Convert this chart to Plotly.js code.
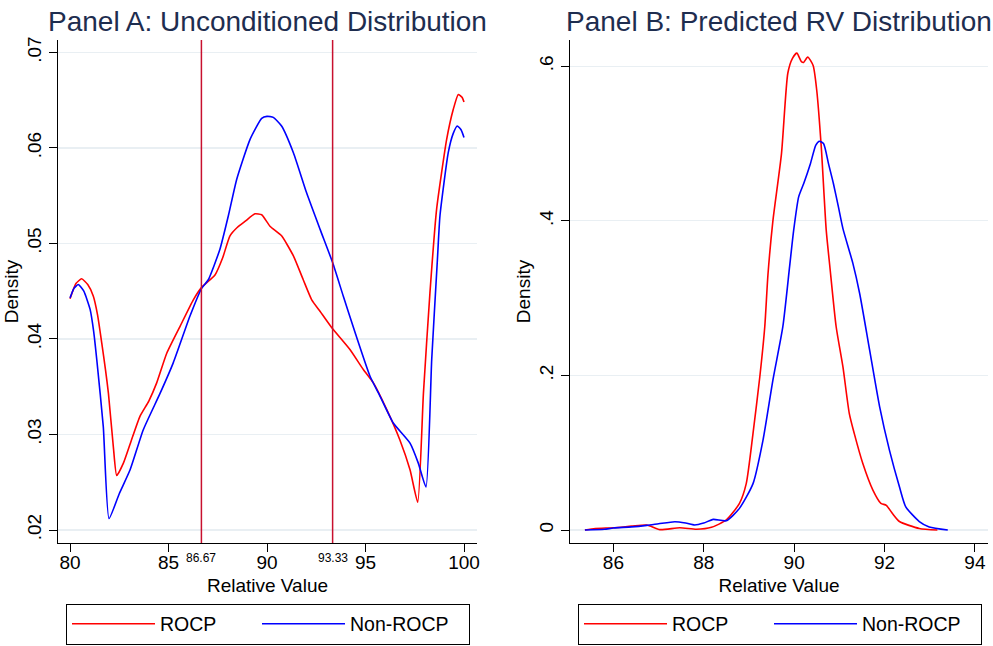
<!DOCTYPE html>
<html>
<head>
<meta charset="utf-8">
<script src="https://cdn.plot.ly/plotly-3.0.1.min.js"></script>
<style>html,body{margin:0;padding:0;background:#fff;}#chart{width:993px;height:646px;}</style>
</head>
<body>
<div id="chart"></div>
<script>
// ---------- Panel A: Unconditioned Distribution ----------
const aRocpX = [80.0, 80.3, 80.59, 80.9, 81.18, 81.4, 81.61, 81.8, 81.95, 82.2, 82.37, 82.71, 83.1, 83.55, 84.0, 84.4, 84.91, 85.58, 86.26, 86.68, 87.36, 87.75, 88.12, 88.5, 88.88, 89.39, 89.73, 90.15, 90.74, 91.34, 91.84, 92.27, 92.69, 93.28, 94.21, 94.89, 95.4, 96.08, 96.75, 97.26, 97.65, 97.94, 98.27, 98.61, 99.12, 99.45, 99.71, 99.9, 100.0];
const aRocpY = [0.0442, 0.0458, 0.0463, 0.0457, 0.0445, 0.0425, 0.0396, 0.0368, 0.0343, 0.0287, 0.0257, 0.0270, 0.0293, 0.0319, 0.0335, 0.0354, 0.0385, 0.0413, 0.0441, 0.0454, 0.0467, 0.0485, 0.0508, 0.0517, 0.0523, 0.0531, 0.0530, 0.0518, 0.0508, 0.0487, 0.0462, 0.0441, 0.0429, 0.0412, 0.0389, 0.0368, 0.0354, 0.0326, 0.0294, 0.0263, 0.0229, 0.0343, 0.0448, 0.0536, 0.0609, 0.0640, 0.0656, 0.0653, 0.0648];
const aNonX = [80.0, 80.2, 80.42, 80.7, 81.02, 81.2, 81.36, 81.69, 81.98, 82.5, 83.05, 83.72, 84.57, 85.24, 86.09, 86.68, 87.02, 87.61, 88.05, 88.46, 89.14, 89.73, 90.0, 90.32, 90.74, 91.34, 92.01, 92.69, 93.33, 93.87, 94.5, 95.23, 95.74, 96.41, 97.26, 97.68, 98.07, 98.36, 98.65, 98.78, 99.2, 99.45, 99.66, 99.85, 100.0];
const aNonY = [0.0443, 0.0453, 0.0457, 0.0450, 0.0431, 0.0408, 0.0378, 0.0308, 0.0212, 0.0238, 0.0263, 0.0305, 0.0343, 0.0375, 0.0424, 0.0453, 0.0462, 0.0494, 0.0530, 0.0567, 0.0609, 0.0631, 0.0633, 0.0632, 0.0623, 0.0595, 0.0553, 0.0515, 0.0480, 0.0445, 0.0405, 0.0361, 0.0340, 0.0312, 0.0291, 0.0270, 0.0245, 0.0378, 0.0483, 0.0529, 0.0595, 0.0615, 0.0623, 0.0619, 0.0611];
const cutoffs = [86.67, 93.33];
const cutoffLabels = ['86.67', '93.33'];
const aXTicks = [80, 85, 90, 95, 100];
const aYTicks = [0.02, 0.03, 0.04, 0.05, 0.06, 0.07];
const aYTickText = ['.02', '.03', '.04', '.05', '.06', '.07'];

// ---------- Panel B: Predicted RV Distribution ----------
const bRocpX = [85.37, 85.6, 86.0, 86.4, 86.74, 87.03, 87.47, 87.84, 88.17, 88.5, 88.79, 88.94, 89.09, 89.24, 89.35, 89.42, 89.53, 89.72, 89.86, 89.96, 90.06, 90.16, 90.21, 90.3, 90.42, 90.5, 90.6, 90.71, 90.79, 90.93, 91.08, 91.22, 91.33, 91.52, 91.74, 91.92, 92.04, 92.18, 92.33, 92.77, 93.17];
const bRocpY = [0.0, 0.002, 0.003, 0.005, 0.0065, 0.0005, 0.003, 0.001, 0.0035, 0.013, 0.0345, 0.060, 0.125, 0.198, 0.263, 0.330, 0.400, 0.487, 0.591, 0.610, 0.617, 0.606, 0.605, 0.612, 0.601, 0.569, 0.496, 0.388, 0.341, 0.263, 0.211, 0.151, 0.125, 0.086, 0.052, 0.0345, 0.032, 0.021, 0.011, 0.002, 0.0];
const bNonX = [85.37, 85.8, 86.0, 86.4, 86.74, 87.0, 87.36, 87.6, 87.8, 88.0, 88.21, 88.5, 88.79, 89.09, 89.31, 89.53, 89.75, 89.9, 89.99, 90.1, 90.21, 90.36, 90.48, 90.56, 90.65, 90.76, 90.87, 90.98, 91.08, 91.3, 91.45, 91.67, 91.89, 92.11, 92.33, 92.47, 92.77, 92.99, 93.4];
const bNonY = [0.0, 0.001, 0.0026, 0.004, 0.006, 0.008, 0.0107, 0.009, 0.0065, 0.009, 0.0138, 0.012, 0.028, 0.060, 0.116, 0.194, 0.263, 0.341, 0.388, 0.431, 0.448, 0.474, 0.498, 0.503, 0.500, 0.474, 0.448, 0.418, 0.390, 0.345, 0.306, 0.233, 0.160, 0.103, 0.056, 0.030, 0.011, 0.004, 0.0];
const bXTicks = [86, 88, 90, 92, 94];
const bYTicks = [0, 0.2, 0.4, 0.6];
const bYTickText = ['0', '.2', '.4', '.6'];

const seriesNames = ['ROCP', 'Non-ROCP'];
const titles = ['Panel A: Unconditioned Distribution', 'Panel B: Predicted RV Distribution'];

const RED = '#ff0000', BLUE = '#0000ff';
const FONT = 'Liberation Sans, Arial, Helvetica, sans-serif';
const W = 993, H = 646;
const LW = [92, 114];  // legend entry widths (px)

const traces = [
  {x: aRocpX, y: aRocpY, name: seriesNames[0], type: 'scatter', mode: 'lines', line: {color: RED, width: 1.6, shape: 'spline', smoothing: 0.5}, xaxis: 'x', yaxis: 'y', legend: 'legend', legendwidth: LW[0]},
  {x: aNonX, y: aNonY, name: seriesNames[1], type: 'scatter', mode: 'lines', line: {color: BLUE, width: 1.6, shape: 'spline', smoothing: 0.5}, xaxis: 'x', yaxis: 'y', legend: 'legend', legendwidth: LW[1]},
  {x: bRocpX, y: bRocpY, name: seriesNames[0], type: 'scatter', mode: 'lines', line: {color: RED, width: 1.6, shape: 'spline', smoothing: 0.6}, xaxis: 'x2', yaxis: 'y2', legend: 'legend2', legendwidth: LW[0]},
  {x: bNonX, y: bNonY, name: seriesNames[1], type: 'scatter', mode: 'lines', line: {color: BLUE, width: 1.6, shape: 'spline', smoothing: 0.6}, xaxis: 'x2', yaxis: 'y2', legend: 'legend2', legendwidth: LW[1]}
];

const yDom = [1 - 543 / H, 1 - 40 / H];
const axisCommon = {
  showline: true, linecolor: '#000', linewidth: 1, ticks: 'outside', ticklen: 8, tickcolor: '#000', tickwidth: 1,
  tickfont: {family: FONT, size: 19, color: '#000'}, zeroline: false, automargin: true, tickmode: 'array'
};
const axTitleFont = {family: FONT, size: 19, color: '#000'};
const xExtra = {showgrid: false, ticklabelstandoff: -6, title: {text: 'Relative Value', font: axTitleFont, standoff: 6}};
const yExtra = {tickangle: -90, showgrid: true, gridcolor: '#e9eff3', gridwidth: 1.2, title: {text: 'Density', font: axTitleFont, standoff: 0}};

const legendCommon = {orientation: 'h', xanchor: 'left', y: 1 - 603.5 / H, yanchor: 'top', bordercolor: '#000', borderwidth: 1,
  bgcolor: '#fff', font: {family: FONT, size: 19.5, color: '#000'}, itemwidth: 83, traceorder: 'normal'};

const layout = {
  width: W, height: H,
  margin: {l: 0, r: 0, t: 0, b: 0, autoexpand: false},
  paper_bgcolor: '#fff', plot_bgcolor: '#fff',
  font: {family: FONT, color: '#000'},
  xaxis: Object.assign({}, axisCommon, xExtra, {domain: [58 / W, 477 / W], range: [79.39, 100.66], tickvals: aXTicks, anchor: 'y'}),
  yaxis: Object.assign({}, axisCommon, yExtra, {domain: yDom, range: [0.01864, 0.0713], tickvals: aYTicks, ticktext: aYTickText, anchor: 'x'}),
  xaxis2: Object.assign({}, axisCommon, xExtra, {domain: [570 / W, 988 / W], range: [85.04, 94.29], tickvals: bXTicks, anchor: 'y2'}),
  yaxis2: Object.assign({}, axisCommon, yExtra, {domain: yDom, range: [-0.0168, 0.634], tickvals: bYTicks, ticktext: bYTickText, anchor: 'x2'}),
  legend: Object.assign({}, legendCommon, {x: 66 / W}),
  legend2: Object.assign({}, legendCommon, {x: 578 / W}),
  shapes: cutoffs.map(c => ({type: 'line', xref: 'x', yref: 'y domain', x0: c, x1: c, y0: 0, y1: 1, line: {color: '#c8102e', width: 1.5}})),
  annotations: [
    {text: titles[0], xref: 'paper', yref: 'paper', x: (58 + 477) / 2 / W, y: 1 - 21 / H, xanchor: 'center', yanchor: 'middle', showarrow: false,
      font: {family: FONT, size: 28, color: '#1e2d4f'}},
    {text: titles[1], xref: 'paper', yref: 'paper', x: (570 + 988) / 2 / W, y: 1 - 21 / H, xanchor: 'center', yanchor: 'middle', showarrow: false,
      font: {family: FONT, size: 28, color: '#1e2d4f'}}
  ].concat(cutoffs.map((c, i) => ({text: cutoffLabels[i], xref: 'x', yref: 'paper', x: c, y: 1 - 557.5 / H, xanchor: 'center', yanchor: 'middle',
      showarrow: false, font: {family: FONT, size: 12, color: '#000'}})))
};

Plotly.newPlot('chart', traces, layout, {displayModeBar: false, staticPlot: true});
</script>
</body>
</html>
